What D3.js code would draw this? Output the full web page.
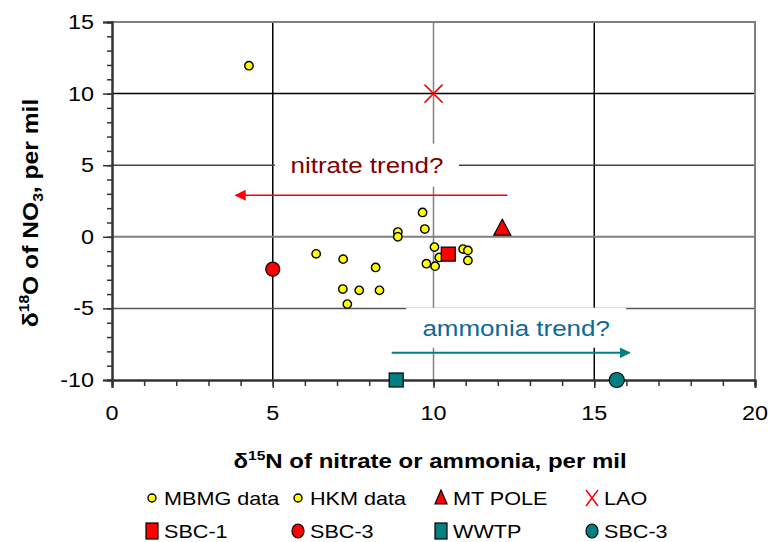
<!DOCTYPE html>
<html>
<head>
<meta charset="utf-8">
<script src="https://cdn.jsdelivr.net/npm/d3@7"></script>
<style>
  body { margin: 0; background: #fff; }
  svg { font-family: "Liberation Sans", Arial, sans-serif; }
</style>
</head>
<body>
<svg id="chart" width="770" height="542"></svg>
<script>
// Achsen
const xTicks = [0, 5, 10, 15, 20];
const yTicks = [-10, -5, 0, 5, 10, 15];

const mbmgX = [4.26, 6.35, 7.19, 7.18, 7.69, 8.32, 7.32, 8.2, 8.89, 8.89, 9.66, 9.73];
const mbmgY = [11.95, -1.19, -1.56, -3.65, -3.74, -3.74, -4.7, -2.14, 0.33, 0.0, 1.7, 0.54];
const hkmX = [10.03, 10.18, 9.78, 10.05, 10.92, 11.07, 11.07];
const hkmY = [-0.72, -1.44, -1.88, -2.05, -0.86, -0.95, -1.65];
const mtPole = [12.14, 0.6];
const lao = [10.0, 10.0];
const sbc1 = [10.46, -1.21];
const sbc3Nitrate = [5.0, -2.26];
const wwtp = [8.84, -10.0];
const sbc3Ammonia = [15.7, -10.0];

// Pfeile und Beschriftungen
const nitrateArrow = [12.3, 3.85, 2.9];   // von x, bis x, y
const ammoniaArrow = [8.7, 16.1, -8.1];
const notes = [
  { text: "nitrate trend?", x: 7.93, y: 5.0, w: 184, h: 43, color: "#800000" },
  { text: "ammonia trend?", x: 12.57, y: -6.35, w: 220, h: 40, color: "#0a6a9a" }
];

const legendRows = [
  ["MBMG data", "HKM data", "MT POLE", "LAO"],
  ["SBC-1", "SBC-3", "WWTP", "SBC-3"]
];

const svg = d3.select("#chart");
const x = d3.scaleLinear().domain([0, 20]).range([112, 755]);
const y = d3.scaleLinear().domain([-10, 15]).range([380, 22]);
const SX = 1.2; // Text ist in der Vorlage horizontal gestreckt

// Gitterlinien
const gridColX = { 5: "#000", 10: "#808080", 15: "#000" };
const gridColY = { "-5": "#555", 0: "#808080", 5: "#444", 10: "#000" };
svg.append("g").selectAll("line").data([5, 10, 15]).join("line")
  .attr("x1", d => x(d)).attr("x2", d => x(d))
  .attr("y1", y(15)).attr("y2", y(-10))
  .attr("stroke", d => gridColX[d]).attr("stroke-width", 1.5);
svg.append("g").selectAll("line").data([-5, 0, 5, 10]).join("line")
  .attr("x1", x(0)).attr("x2", x(20))
  .attr("y1", d => y(d)).attr("y2", d => y(d))
  .attr("stroke", d => gridColY[d]).attr("stroke-width", d => d === 0 ? 2 : 1.5);

// Rahmen oben/rechts
svg.append("path")
  .attr("d", `M${x(0)},${y(15)}H${x(20)}V${y(-10)}`)
  .attr("fill", "none").attr("stroke", "#808080").attr("stroke-width", 2);

// Beschriftungskästen
notes.forEach(n => {
  svg.append("rect")
    .attr("x", x(n.x) - n.w / 2).attr("y", y(n.y) - n.h / 2)
    .attr("width", n.w).attr("height", n.h).attr("fill", "#fff");
  svg.append("g").attr("transform", `translate(${x(n.x)},${y(n.y) + 8})`)
    .append("text").attr("transform", `scale(1.18,1)`)
    .attr("text-anchor", "middle").attr("font-size", 22)
    .attr("fill", n.color).text(n.text);
});

// Achsen
const yAxis = svg.append("g").attr("transform", `translate(${x(0)},0)`);
yAxis.append("g").call(d3.axisLeft(y).tickValues(d3.range(-10, 16)).tickSize(5).tickFormat(""));
yAxis.append("g").call(d3.axisLeft(y).tickValues(yTicks).tickSize(9).tickFormat(""));
const xAxis = svg.append("g").attr("transform", `translate(0,${y(-10)})`);
xAxis.append("g").call(d3.axisBottom(x).tickValues(d3.range(0, 21)).tickSize(6).tickFormat(""));
xAxis.append("g").call(d3.axisBottom(x).tickValues(xTicks).tickSize(8).tickFormat(""));
svg.selectAll(".domain").attr("stroke", "#333").attr("stroke-width", 2);
svg.selectAll(".tick line").attr("stroke", "#333").attr("stroke-width", 1.5);

svg.append("g").selectAll("g").data(yTicks).join("g")
  .attr("transform", d => `translate(94,${y(d) + 7})`)
  .append("text").attr("transform", `scale(${SX},1)`)
  .attr("text-anchor", "end").attr("font-size", 19.5).text(d => d);
svg.append("g").selectAll("g").data(xTicks).join("g")
  .attr("transform", d => `translate(${x(d)},${y(-10) + 40})`)
  .append("text").attr("transform", `scale(${SX},1)`)
  .attr("text-anchor", "middle").attr("font-size", 19.5).text(d => d);

// Achsentitel
const xt = svg.append("g").attr("transform", `translate(430,468)`)
  .append("text").attr("transform", `scale(1.2,1)`)
  .attr("text-anchor", "middle").attr("font-size", 20).attr("font-weight", "bold");
xt.append("tspan").text("\u03b4");
xt.append("tspan").attr("dy", -8).attr("font-size", 13).text("15");
xt.append("tspan").attr("dy", 8).text("N of nitrate or ammonia, per mil");

const yt = svg.append("g").attr("transform", `translate(38,213) rotate(-90)`)
  .append("text").attr("transform", `scale(1.12,1)`)
  .attr("text-anchor", "middle").attr("font-size", 22).attr("font-weight", "bold");
yt.append("tspan").text("\u03b4");
yt.append("tspan").attr("dy", -9).attr("font-size", 14).text("18");
yt.append("tspan").attr("dy", 9).text("O of NO");
yt.append("tspan").attr("dy", 5).attr("font-size", 14).text("3");
yt.append("tspan").attr("dy", -5).text(", per mil");

// Pfeile
svg.append("defs").selectAll("marker")
  .data([["arrRed", "#ff0000"], ["arrTeal", "#008080"]]).join("marker")
  .attr("id", d => d[0]).attr("viewBox", "0 0 10 10")
  .attr("refX", 9).attr("refY", 5).attr("markerWidth", 11).attr("markerHeight", 11)
  .attr("markerUnits", "userSpaceOnUse").attr("orient", "auto")
  .append("path").attr("d", "M0,0L10,5L0,10Z").attr("fill", d => d[1]);
svg.append("line")
  .attr("x1", x(nitrateArrow[0])).attr("x2", x(nitrateArrow[1]))
  .attr("y1", y(nitrateArrow[2])).attr("y2", y(nitrateArrow[2]))
  .attr("stroke", "#ff0000").attr("stroke-width", 1.5).attr("marker-end", "url(#arrRed)");
svg.append("line")
  .attr("x1", x(ammoniaArrow[0])).attr("x2", x(ammoniaArrow[1]))
  .attr("y1", y(ammoniaArrow[2])).attr("y2", y(ammoniaArrow[2]))
  .attr("stroke", "#008080").attr("stroke-width", 2).attr("marker-end", "url(#arrTeal)");

// Symbole
const sym = {
  yellow: g => g.append("circle").attr("r", 4.2).attr("fill", "#ffff00").attr("stroke", "#000").attr("stroke-width", 1.4),
  tri: g => g.append("path").attr("d", "M0,-9L8.5,7L-8.5,7Z").attr("fill", "#ff0000").attr("stroke", "#000").attr("stroke-width", 1.2),
  cross: g => g.append("path").attr("d", "M-9,-9L9,9M-9,9L9,-9").attr("stroke", "#ff0000").attr("stroke-width", 1.5).attr("fill", "none"),
  redSq: g => g.append("rect").attr("x", -7).attr("y", -7).attr("width", 14).attr("height", 14).attr("fill", "#ff0000").attr("stroke", "#000").attr("stroke-width", 1.2),
  redCirc: g => g.append("circle").attr("r", 7).attr("fill", "#ff0000").attr("stroke", "#000").attr("stroke-width", 1.2),
  tealSq: g => g.append("rect").attr("x", -7).attr("y", -7).attr("width", 14).attr("height", 14).attr("fill", "#008080").attr("stroke", "#000").attr("stroke-width", 1.2),
  tealCirc: g => g.append("circle").attr("r", 7.5).attr("fill", "#008080").attr("stroke", "#000").attr("stroke-width", 1.2)
};
const smallSym = {
  yellow: g => g.append("circle").attr("r", 4).attr("fill", "#ffff00").attr("stroke", "#000").attr("stroke-width", 1.4),
  tri: g => g.append("path").attr("d", "M0,-8L6,6L-6,6Z").attr("fill", "#ff0000").attr("stroke", "#000").attr("stroke-width", 1.2),
  cross: g => g.append("path").attr("d", "M-6,-8L6,8M-6,8L6,-8").attr("stroke", "#ff0000").attr("stroke-width", 1.5).attr("fill", "none"),
  redSq: g => g.append("rect").attr("x", -6).attr("y", -8).attr("width", 12).attr("height", 16).attr("fill", "#ff0000").attr("stroke", "#000").attr("stroke-width", 1.2),
  redCirc: g => g.append("ellipse").attr("rx", 6).attr("ry", 7).attr("fill", "#ff0000").attr("stroke", "#000").attr("stroke-width", 1.2),
  tealSq: g => g.append("rect").attr("x", -6).attr("y", -8).attr("width", 12).attr("height", 16).attr("fill", "#008080").attr("stroke", "#000").attr("stroke-width", 1.2),
  tealCirc: g => g.append("ellipse").attr("rx", 6).attr("ry", 7).attr("fill", "#008080").attr("stroke", "#000").attr("stroke-width", 1.2)
};

function plotSeries(xs, ys, kind) {
  svg.append("g").selectAll("g").data(xs.map((d, i) => [d, ys[i]])).join("g")
    .attr("transform", d => `translate(${x(d[0])},${y(d[1])})`)
    .each(function () { sym[kind](d3.select(this)); });
}
plotSeries(mbmgX, mbmgY, "yellow");
plotSeries(hkmX, hkmY, "yellow");
plotSeries([mtPole[0]], [mtPole[1]], "tri");
plotSeries([lao[0]], [lao[1]], "cross");
plotSeries([sbc1[0]], [sbc1[1]], "redSq");
plotSeries([sbc3Nitrate[0]], [sbc3Nitrate[1]], "redCirc");
plotSeries([wwtp[0]], [wwtp[1]], "tealSq");
plotSeries([sbc3Ammonia[0]], [sbc3Ammonia[1]], "tealCirc");

// Legende
const legendKinds = [["yellow", "yellow", "tri", "cross"], ["redSq", "redCirc", "tealSq", "tealCirc"]];
const legendX = [152, 298, 441, 592];
const legendY = [498, 531];
legendRows.forEach((row, r) => {
  row.forEach((label, c) => {
    const g = svg.append("g").attr("transform", `translate(${legendX[c]},${legendY[r]})`);
    smallSym[legendKinds[r][c]](g);
    g.append("g").attr("transform", "translate(12,6.5)")
      .append("text").attr("transform", `scale(${SX},1)`)
      .attr("font-size", 18).text(label);
  });
});
</script>
</body>
</html>
